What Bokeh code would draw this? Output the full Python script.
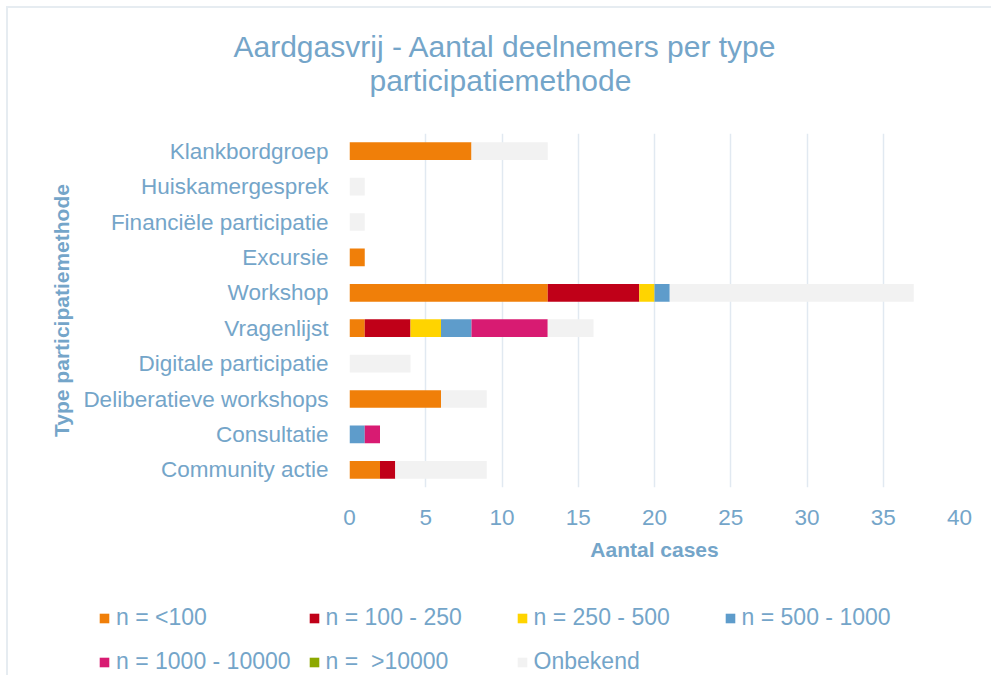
from bokeh.plotting import figure
from bokeh.models import FactorRange, Range1d, FixedTicker, Legend, LegendItem, Title
from bokeh.layouts import column
from bokeh.embed import file_html
from bokeh.resources import INLINE

# categories from bottom to top (Bokeh puts first factor at bottom)
categories = ["Community actie", "Consultatie", "Deliberatieve workshops",
              "Digitale participatie", "Vragenlijst", "Workshop", "Excursie",
              "Financiële participatie", "Huiskamergesprek", "Klankbordgroep"]

n_lt100     = [2, 0, 6, 0, 1, 13, 1, 0, 0, 8]
n_100_250   = [1, 0, 0, 0, 3, 6, 0, 0, 0, 0]
n_250_500   = [0, 0, 0, 0, 2, 1, 0, 0, 0, 0]
n_500_1000  = [0, 1, 0, 0, 2, 1, 0, 0, 0, 0]
n_1000_10000 = [0, 1, 0, 0, 5, 0, 0, 0, 0, 0]
n_gt10000   = [0, 0, 0, 0, 0, 0, 0, 0, 0, 0]
onbekend    = [6, 0, 3, 4, 3, 16, 0, 1, 1, 5]

series_keys = ["lt100", "s100_250", "s250_500", "s500_1000", "s1000_10000", "gt10000", "onbekend"]
series_labels = ["n = <100", "n = 100 - 250", "n = 250 - 500", "n = 500 - 1000",
                 "n = 1000 - 10000", "n =  >10000", "Onbekend"]
series_colors = ["#F07F09", "#C00018", "#FFD400", "#5E9CCB", "#D81B72", "#8CA800", "#F2F2F2"]
x_ticks = [0, 5, 10, 15, 20, 25, 30, 35, 40]

data = dict(cat=categories, lt100=n_lt100, s100_250=n_100_250, s250_500=n_250_500,
            s500_1000=n_500_1000, s1000_10000=n_1000_10000, gt10000=n_gt10000,
            onbekend=onbekend)

TXT = "#74A5C9"
FONT = "Liberation Sans"

p = figure(width=983, height=572, y_range=FactorRange(factors=categories),
           x_range=Range1d(0, 40), output_backend="svg", toolbar_location=None,
           min_border_left=341, min_border_right=32, min_border_top=125,
           min_border_bottom=93, outline_line_color=None, title=None)

renderers = p.hbar_stack(series_keys, y="cat", height=0.5, color=series_colors,
                         line_color=None, source=data)

p.xgrid.ticker = FixedTicker(ticks=x_ticks)
p.xgrid.grid_line_color = "#E1E9F1"
p.xgrid.grid_line_width = 1.5
p.ygrid.grid_line_color = None

p.xaxis.ticker = FixedTicker(ticks=x_ticks)
p.xaxis.axis_label = "Aantal cases"
p.yaxis.axis_label = "Type participatiemethode"
for ax in (p.xaxis[0], p.yaxis[0]):
    ax.axis_line_color = None
    ax.major_tick_line_color = None
    ax.minor_tick_line_color = None
    ax.major_label_text_color = TXT
    ax.major_label_text_font = FONT
    ax.major_label_text_font_size = "22.5px"
    ax.axis_label_text_color = TXT
    ax.axis_label_text_font = FONT
    ax.axis_label_text_font_size = "21px"
    ax.axis_label_text_font_style = "bold"
p.xaxis.major_label_standoff = 16
p.xaxis.axis_label_standoff = 10
p.yaxis.major_label_standoff = 15
p.yaxis.axis_label_standoff = 7

# two-line title, each line centred on the chart
p.add_layout(Title(text="participatiemethode", align="left", offset=20,
                   text_color=TXT, text_font=FONT, text_font_size="30px",
                   text_font_style="normal", standoff=73), "above")
p.add_layout(Title(text="Aardgasvrij - Aantal deelnemers per type", align="left", offset=-116,
                   text_color=TXT, text_font=FONT, text_font_size="30px",
                   text_font_style="normal", standoff=-74), "above")

# legend strip below the chart: same data and colours (zero-height bars, only the legend shows)
lg = figure(width=983, height=95, x_range=Range1d(0, 40),
            y_range=FactorRange(factors=categories),
            output_backend="svg", toolbar_location=None, outline_line_color=None,
            min_border=0, title=None)
lg.frame_align = False
lg.axis.visible = False
lg.grid.visible = False
leg_renderers = lg.hbar_stack(series_keys, y="cat", height=0, color=series_colors,
                              line_color=None, source=data)
legend = Legend(items=[LegendItem(label=l, renderers=[r]) for l, r in zip(series_labels, leg_renderers)],
                location=(90, 0), orientation="horizontal", ncols=4,
                glyph_width=12, glyph_height=12, label_standoff=6,
                label_width=173, spacing=17, label_height=24,
                label_text_font=FONT, label_text_font_size="23px",
                label_text_color=TXT, background_fill_alpha=0,
                border_line_color=None, padding=0, margin=0)
lg.add_layout(legend, "center")

layout = column(p, lg, spacing=0,
                styles={"margin-left": "6px", "margin-top": "6px",
                        "border-left": "2px solid #E6ECF1", "border-top": "2px solid #E6ECF1"})
open("out.html", "w").write(file_html(layout, INLINE))
